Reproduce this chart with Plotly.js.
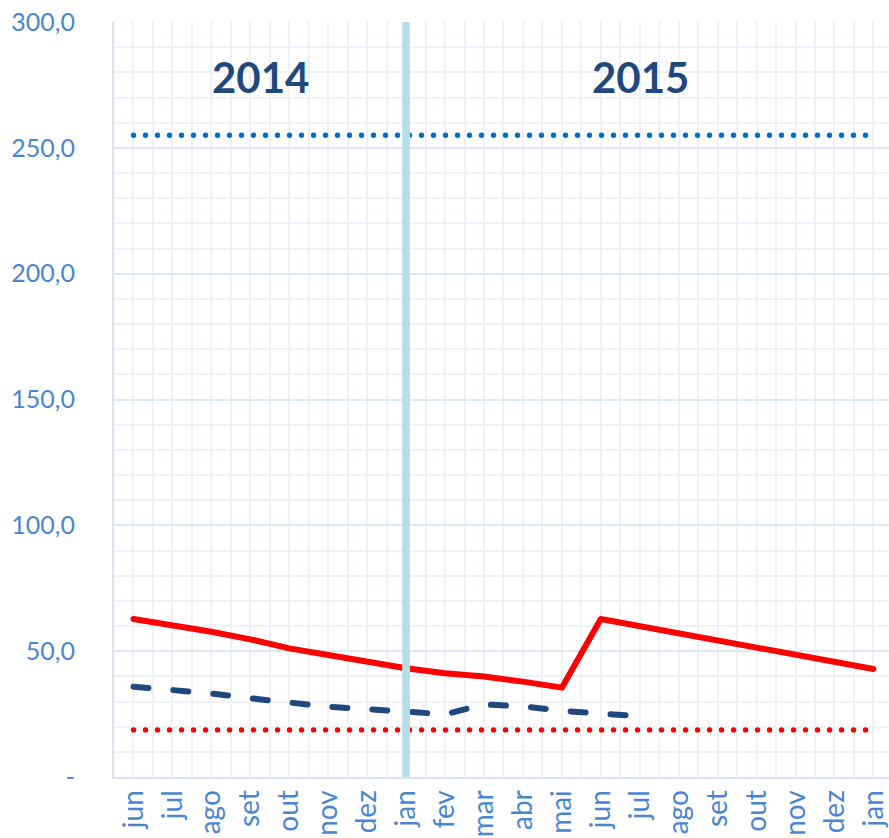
<!DOCTYPE html>
<html>
<head>
<meta charset="utf-8">
<script src="https://cdn.plot.ly/plotly-3.0.1.min.js"></script>
<style>
html,body{margin:0;padding:0;background:#fff;}
#chart{width:889px;height:838px;}
.scatterlayer path.js-line{stroke-linecap:round;stroke-linejoin:round;}
</style>
</head>
<body>
<div id="chart"></div>
<script>
var months = ['jun','jul','ago','set','out','nov','dez','jan','fev','mar','abr','mai','jun','jul','ago','set','out','nov','dez','jan'];
var redSolid = [62.8,60.4,57.7,54.7,51.1,48.5,45.7,43.2,41.2,39.9,37.9,35.5,62.8,60.0,57.1,54.0,51.1,48.5,45.4,42.9];
var navyDashed = [35.9,34.6,33.2,31.3,29.3,27.9,27.0,26.2,24.9,28.8,28.1,26.3,25.2,24.1];
var redDotted = [18.7,18.7,18.7,18.7,18.7,18.7,18.7,18.7,18.7,18.7,18.7,18.7,18.7,18.7,18.7,18.7,18.7,18.7,18.7,18.7];
var blueDotted = [255,255,255,255,255,255,255,255,255,255,255,255,255,255,255,255,255,255,255,255];
var yTickVals = [0,50,100,150,200,250,300];
var yTickText = ['-','50,0','100,0','150,0','200,0','250,0','300,0'];
var yearLabels = ['2014','2015'];
var dividerIndex = 7;

function idx(arr){ return arr.map(function(_,i){return i;}); }

var traces = [
  {x: idx(blueDotted), y: blueDotted, mode:'lines', line:{color:'#0070c0', width:5.3, dash:'0.1px,11.9px'}, hoverinfo:'skip'},
  {x: idx(redDotted), y: redDotted, mode:'lines', line:{color:'#ff0000', width:5.3, dash:'0.1px,11.9px'}, hoverinfo:'skip'},
  {x: idx(navyDashed), y: navyDashed, mode:'lines', line:{color:'#1f497d', width:6, dash:'15px,25px'}, hoverinfo:'skip'},
  {x: idx(redSolid), y: redSolid, mode:'lines', line:{color:'#ff0000', width:6}, hoverinfo:'skip'}
];

var layout = {
  width: 889, height: 838,
  margin: {l:114, r:0, t:22, b:61},
  paper_bgcolor:'#ffffff', plot_bgcolor:'#ffffff',
  showlegend:false,
  font:{family:'Lato, "Open Sans", sans-serif', color:'#4a86d0'},
  xaxis:{
    range:[-0.5, 19.4],
    tickmode:'array', tickvals: idx(months), ticktext: months,
    tickangle:-90,
    tickfont:{size:28, color:'#4a86d0'},
    showgrid:true, gridcolor:'#edf2f9', gridwidth:2,
    minor:{tickmode:'linear', tick0:-0.5, dtick:0.5, showgrid:true, gridcolor:'#edf2f9', gridwidth:2, ticks:''},
    showline:true, linecolor:'#d9e3f1', linewidth:2,
    zeroline:false, ticks:'', automargin:false, fixedrange:true
  },
  yaxis:{
    range:[0,300],
    tickmode:'array', tickvals:yTickVals, ticktext:yTickText,
    tickfont:{size:25, color:'#4a86d0'},
    ticklabelstandoff: 32,
    showgrid:true, gridcolor:'#dfe8f4', gridwidth:2,
    minor:{tickmode:'linear', tick0:0, dtick:10, showgrid:true, gridcolor:'#edf2f9', gridwidth:2, ticks:''},
    showline:true, linecolor:'#d9e3f1', linewidth:2,
    zeroline:false, ticks:'', automargin:false, fixedrange:true
  },
  shapes:[
    {type:'rect', xref:'x', yref:'paper', x0:dividerIndex-0.1, x1:dividerIndex+0.1, y0:0, y1:1, fillcolor:'#b7dee8', line:{width:0}, layer:'above'}
  ],
  annotations:[
    {text:yearLabels[0], xref:'x', yref:'y', x:3.26, y:278, showarrow:false, font:{family:'Lato, "Open Sans", sans-serif', size:42, color:'#1f497d', weight:'bold'}},
    {text:yearLabels[1], xref:'x', yref:'y', x:13.02, y:278, showarrow:false, font:{family:'Lato, "Open Sans", sans-serif', size:42, color:'#1f497d', weight:'bold'}}
  ]
};

Plotly.newPlot('chart', traces, layout, {staticPlot:true, displayModeBar:false});
</script>
</body>
</html>
